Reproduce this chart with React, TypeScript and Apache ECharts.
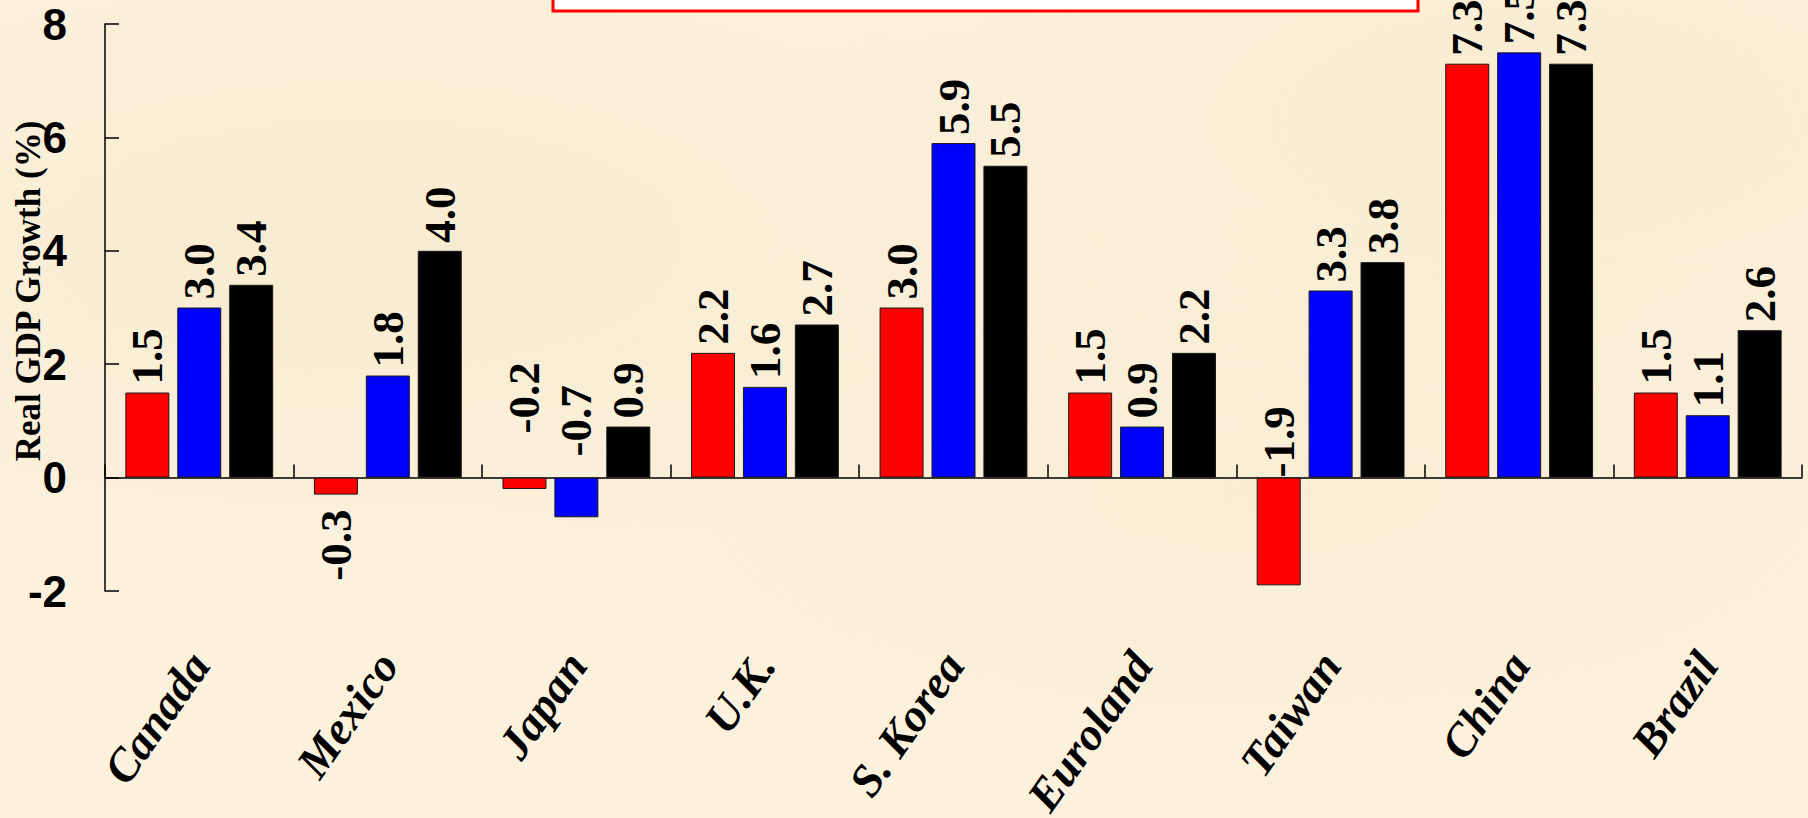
import React, { useEffect, useRef } from "react";
import * as echarts from "echarts";

const categories = ["Canada", "Mexico", "Japan", "U.K.", "S. Korea", "Euroland", "Taiwan", "China", "Brazil"];
const redValues = [1.5, -0.3, -0.2, 2.2, 3.0, 1.5, -1.9, 7.3, 1.5];
const blueValues = [3.0, 1.8, -0.7, 1.6, 5.9, 0.9, 3.3, 7.5, 1.1];
const blackValues = [3.4, 4.0, 0.9, 2.7, 5.5, 2.2, 3.8, 7.3, 2.6];
const yTicks = [-2, 0, 2, 4, 6, 8];
const yAxisTitle = "Real GDP Growth (%)";

// label placement overrides for some negative values (placed above the zero line in the original)
const labelOverrides: Record<string, { pos: string; dist: number }> = {
  "0-2": { pos: "top", dist: 44 },
  "1-2": { pos: "top", dist: 21 },
  "0-6": { pos: "top", dist: 0 },
};

const SERIF = '"Liberation Serif", "Times New Roman", serif';
const NARROW = '"Liberation Sans Narrow", "Arial Narrow", "Liberation Sans", sans-serif';

function buildData(values: number[], sIdx: number) {
  return values.map((v, i) => {
    const ov = labelOverrides[`${sIdx}-${i}`];
    const pos = ov ? ov.pos : v >= 0 ? "top" : "bottom";
    const dist = ov ? ov.dist : v >= 0 ? 8 : 15;
    return {
      value: v,
      label: {
        position: pos,
        distance: dist,
        align: pos === "top" ? "left" : "right",
      },
    };
  });
}

export default function App() {
  const ref = useRef<HTMLDivElement>(null);
  useEffect(() => {
    if (!ref.current) return;
    const chart = echarts.init(ref.current, undefined, { renderer: "svg" });
    const colors = ["#ff0000", "#0000ff", "#000000"];
    const seriesVals = [redValues, blueValues, blackValues];
    const series = seriesVals.map((vals, si) => ({
      type: "bar",
      name: `Series ${si + 1}`,
      data: buildData(vals, si),
      barWidth: 44,
      barGap: "18%",
      itemStyle: { color: colors[si], borderColor: "#1a1a1a", borderWidth: 1 },
      label: {
        show: true,
        rotate: 90,
        verticalAlign: "middle",
        formatter: (p: any) => Number(p.value).toFixed(1),
        fontFamily: SERIF,
        fontWeight: "bold",
        fontSize: 45,
        color: "#000",
      },
    }));
    chart.setOption({
      animation: false,
      backgroundColor: "transparent",
      grid: { left: 105, right: 6, top: 24, bottom: 227, outerBoundsMode: "none", containLabel: false },
      xAxis: {
        type: "category",
        data: categories,
        axisLine: { onZero: true, lineStyle: { color: "#000", width: 1.5 } },
        axisTick: { show: true, inside: true, length: 13, lineStyle: { color: "#000", width: 1.5 } },
        axisLabel: {
          interval: 0,
          rotate: 55,
          margin: 66,
          hideOverlap: false,
          fontFamily: SERIF,
          fontWeight: "bold",
          fontStyle: "italic",
          fontSize: 46,
          color: "#000",
        },
      },
      yAxis: {
        type: "value",
        min: yTicks[0],
        max: yTicks[yTicks.length - 1],
        interval: 2,
        splitLine: { show: false },
        axisLine: { show: true, lineStyle: { color: "#000", width: 1.5 } },
        axisTick: { show: true, inside: true, length: 14, lineStyle: { color: "#000", width: 1.5 } },
        axisLabel: {
          margin: 38,
          fontFamily: NARROW,
          fontWeight: "bold",
          fontSize: 44,
          color: "#000",
        },
      },
      graphic: [
        {
          type: "rect",
          shape: { x: 553, y: -30, width: 865, height: 41 },
          style: { fill: "#ffffff", stroke: "#ff0000", lineWidth: 3 },
          z: 10,
        },
        {
          type: "text",
          x: 28,
          y: 291,
          rotation: Math.PI / 2,
          style: {
            text: yAxisTitle,
            fontFamily: SERIF,
            fontWeight: "bold",
            fontSize: 35,
            fill: "#000",
            align: "center",
            verticalAlign: "middle",
          },
        },
      ],
      series,
    });
    return () => chart.dispose();
  }, []);
  return (
    <div
      style={{
        position: "fixed",
        left: 0,
        top: 0,
        width: 1808,
        height: 818,
        background:
          "radial-gradient(ellipse at 20% 30%, rgba(245,232,200,0.6), rgba(0,0,0,0) 40%), radial-gradient(ellipse at 70% 60%, rgba(246,234,205,0.5), rgba(0,0,0,0) 45%), radial-gradient(ellipse at 85% 15%, rgba(244,230,198,0.5), rgba(0,0,0,0) 35%), #fbf1dd",
      }}
    >
      <div ref={ref} style={{ width: 1808, height: 818 }} />
    </div>
  );
}
